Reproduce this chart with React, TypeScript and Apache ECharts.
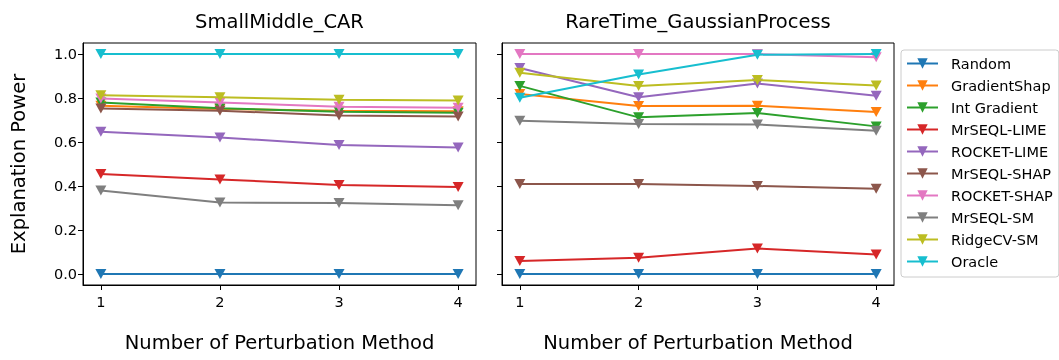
import React, { useEffect, useRef } from "react";
import * as echarts from "echarts";

// ---- data ----
const xValues = [1, 2, 3, 4];
const methods = [
  "Random",
  "GradientShap",
  "Int Gradient",
  "MrSEQL-LIME",
  "ROCKET-LIME",
  "MrSEQL-SHAP",
  "ROCKET-SHAP",
  "MrSEQL-SM",
  "RidgeCV-SM",
  "Oracle",
];
const colors = [
  "#1f77b4",
  "#ff7f0e",
  "#2ca02c",
  "#d62728",
  "#9467bd",
  "#8c564b",
  "#e377c2",
  "#7f7f7f",
  "#bcbd22",
  "#17becf",
];
const yTicks = [0, 0.2, 0.4, 0.6, 0.8, 1.0];
const titles = ["SmallMiddle_CAR", "RareTime_GaussianProcess"];

// rows follow `methods`
const smallMiddleCar: number[][] = [
  [0, 0, 0, 0],
  [0.765, 0.75, 0.742, 0.74],
  [0.78, 0.753, 0.738, 0.733],
  [0.455, 0.43, 0.405, 0.395],
  [0.647, 0.621, 0.586, 0.575],
  [0.752, 0.742, 0.721, 0.716],
  [0.798, 0.78, 0.76, 0.756],
  [0.379, 0.325, 0.323, 0.312],
  [0.813, 0.803, 0.792, 0.789],
  [1.0, 1.0, 1.0, 1.0],
];
const rareTimeGp: number[][] = [
  [0, 0, 0, 0],
  [0.818, 0.764, 0.765, 0.736],
  [0.855, 0.712, 0.732, 0.671],
  [0.059, 0.074, 0.116, 0.089],
  [0.936, 0.803, 0.866, 0.81],
  [0.409, 0.409, 0.4, 0.388],
  [1.0, 1.0, 1.0, 0.985],
  [0.697, 0.682, 0.68, 0.651],
  [0.915, 0.855, 0.882, 0.857],
  [0.801, 0.907, 0.997, 1.0],
];

const FONT = "DejaVu Sans";

export default function App() {
  const ref = useRef<HTMLDivElement>(null);
  useEffect(() => {
    if (!ref.current) return;
    document.body.style.margin = "0";
    const chart = echarts.init(ref.current, null, { renderer: "svg" });
    const grids = [
      { left: 83, top: 43, width: 393, height: 242 },
      { left: 502, top: 43, width: 392, height: 242 },
    ];
    const datasets = [smallMiddleCar, rareTimeGp];
    const series: any[] = [];
    datasets.forEach((ds, gi) => {
      ds.forEach((vals, mi) => {
        series.push({
          name: methods[mi],
          type: "line",
          xAxisIndex: gi,
          yAxisIndex: gi,
          data: xValues.map((x, i) => [x, vals[i]]),
          symbol: "triangle",
          symbolRotate: 180,
          symbolSize: [11, 10],
          showSymbol: true,
          color: colors[mi],
          lineStyle: { width: 2, color: colors[mi] },
          itemStyle: { color: colors[mi] },
          emphasis: { disabled: true },
          z: 2 + mi,
        });
      });
    });
    const xAxis = grids.map((_, gi) => ({
      type: "value",
      gridIndex: gi,
      min: 0.85,
      max: 4.15,
      splitLine: { show: false },
      axisLine: { show: true, onZero: false, lineStyle: { color: "#000", width: 1 } },
      axisTick: {
        show: true,
        length: 5,
        lineStyle: { color: "#000", width: 1 },
        customValues: xValues,
      },
      axisLabel: {
        show: true,
        customValues: xValues,
        color: "#000",
        fontFamily: FONT,
        fontSize: 14.5,
        margin: 9,
        formatter: (v: number) => String(v),
      },
    }));
    const yAxis = grids.map((_, gi) => ({
      type: "value",
      gridIndex: gi,
      min: -0.05,
      max: 1.05,
      splitLine: { show: false },
      axisLine: { show: true, onZero: false, lineStyle: { color: "#000", width: 1 } },
      axisTick: {
        show: true,
        length: 5,
        lineStyle: { color: "#000", width: 1 },
        customValues: yTicks,
      },
      axisLabel: {
        show: gi === 0,
        customValues: yTicks,
        color: "#000",
        fontFamily: FONT,
        fontSize: 14.5,
        margin: 6,
        formatter: (v: number) => v.toFixed(1),
      },
    }));
    chart.setOption({
      animation: false,
      grid: grids.map((g) => ({
        ...g,
        show: true,
        borderColor: "#000",
        borderWidth: 1,
        backgroundColor: "transparent",
      })),
      xAxis,
      yAxis,
      legend: {
        data: methods,
        orient: "vertical",
        left: 901,
        top: 50,
        padding: [6, 6, 8, 5],
        itemWidth: 31,
        itemHeight: 13,
        itemGap: 7,
        borderColor: "#cccccc",
        borderWidth: 1,
        borderRadius: 3,
        backgroundColor: "#fff",
        textStyle: {
          fontFamily: FONT,
          fontSize: 14.5,
          lineHeight: 14,
          color: "#000",
          padding: [0, 0, 0, 8],
        },
        selectedMode: false,
      },
      graphic: [
        {
          type: "text",
          x: 279.5,
          y: 21,
          style: {
            text: titles[0],
            font: `19.5px "${FONT}"`,
            fill: "#000",
            textAlign: "center",
            textVerticalAlign: "middle",
          },
        },
        {
          type: "text",
          x: 698,
          y: 21,
          style: {
            text: titles[1],
            font: `19.5px "${FONT}"`,
            fill: "#000",
            textAlign: "center",
            textVerticalAlign: "middle",
          },
        },
        {
          type: "text",
          x: 279.5,
          y: 342,
          style: {
            text: "Number of Perturbation Method",
            font: `19.5px "${FONT}"`,
            fill: "#000",
            textAlign: "center",
            textVerticalAlign: "middle",
          },
        },
        {
          type: "text",
          x: 698,
          y: 342,
          style: {
            text: "Number of Perturbation Method",
            font: `19.5px "${FONT}"`,
            fill: "#000",
            textAlign: "center",
            textVerticalAlign: "middle",
          },
        },
        {
          type: "text",
          x: 18,
          y: 164,
          rotation: Math.PI / 2,
          style: {
            text: "Explanation Power",
            font: `19.5px "${FONT}"`,
            fill: "#000",
            textAlign: "center",
            textVerticalAlign: "middle",
          },
        },
      ],
      series,
    });
    return () => chart.dispose();
  }, []);
  return (
    <div
      ref={ref}
      style={{ position: "fixed", left: 0, top: 0, width: 1059, height: 360 }}
    />
  );
}
